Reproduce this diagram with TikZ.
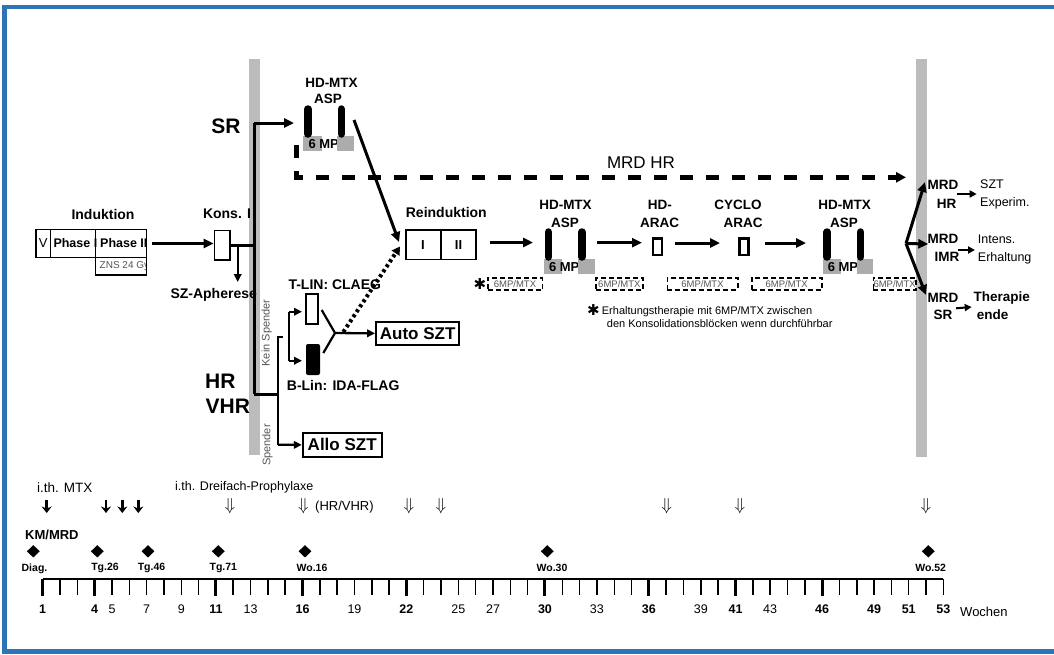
\documentclass[tikz,border=0pt]{standalone}
\usepackage{fontspec}
\setmainfont{Liberation Sans}
\newfontfamily\djv{DejaVu Sans}
\usetikzlibrary{arrows.meta,calc,shapes.geometric}
\newcommand{\myfs}[1]{\fontsize{#1}{#1}\selectfont}
\definecolor{frameblue}{RGB}{46,117,182}
\definecolor{bargray}{RGB}{188,188,188}
\definecolor{mpgray}{RGB}{172,172,172}
\definecolor{txtgray}{RGB}{85,85,85}
\tikzset{
  lab/.style={inner sep=0pt, font=\bfseries\myfs{14}},
  big/.style={inner sep=0pt, font=\bfseries\myfs{21}},
  flow/.style={line width=3pt, -{Triangle[length=10pt,width=9pt]}},
  flowsm/.style={line width=2.3pt, -{Triangle[length=8pt,width=7.5pt]}},
  plain/.style={line width=3pt},
  thinline/.style={line width=2.2pt},
  thinbox/.style={draw, line width=1.4pt, inner sep=0pt},
  bigbox/.style={draw, line width=1.8pt, inner sep=0pt, font=\bfseries\myfs{17}},
  chembox/.style={draw, line width=2.4pt, fill=white, inner sep=0pt, minimum width=9pt, minimum height=16.7pt},
  dbox/.style={draw, dash pattern=on 5pt off 3pt, line width=1.6pt, inner sep=0pt, minimum height=12.3pt, font=\myfs{9.5}, text=txtgray},
  mtxarrow/.style={line width=2.6pt, -{Stealth[length=6.5pt,width=10pt]}},
  dbl/.style={inner sep=0pt, font=\myfs{16}},
  kmd/.style={diamond, fill=black, inner sep=0pt, minimum width=13pt, minimum height=12.5pt},
  kml/.style={inner sep=0pt, font=\bfseries\myfs{10.5}},
  wk/.style={inner sep=0pt, font=\myfs{12.5}},
  wkb/.style={inner sep=0pt, font=\bfseries\myfs{12.5}},
  mrd/.style={inner sep=0pt, font=\bfseries\myfs{13.5}},
  outc/.style={inner sep=0pt, anchor=west, font=\myfs{12.5}},
  outcb/.style={inner sep=0pt, anchor=west, font=\bfseries\myfs{13.5}},
  small/.style={line width=2pt, -{Triangle[length=7pt,width=7pt]}},
  starmk/.style={inner sep=0pt, font=\djv\myfs{15}}
}
\newcommand{\hdblock}[3]{%
  \begin{scope}[shift={(#1,#2)}]
    \fill[mpgray] (303.3,136) rectangle (321.7,150.7);
    \node[anchor=west, inner sep=0pt, font=\bfseries\myfs{13}] (#3mp) at (308.3,144) {6 MP};
    \fill[mpgray] (337.3,136) rectangle (354,150.7);
    \draw[line width=7.5pt, line cap=round] (307.8,109) -- (307.8,134);
    \draw[line width=7.5pt, line cap=round] (341.3,109) -- (341.3,134);
  \end{scope}}
\begin{document}
\begin{tikzpicture}[x=1pt,y=-1pt]
\useasboundingbox (0,0) rectangle (1054,654);
% frame
\draw[frameblue, line width=4.5pt] (4.5,654) -- (4.5,7) -- (1054,7);
\draw[frameblue, line width=4.5pt] (4.5,651.5) -- (1054,651.5);

% gray bars
\fill[bargray] (249.3,59) rectangle (260,455);
\fill[bargray] (916,59.3) rectangle (927.3,456.7);

% ---------- Induktion ----------
\node[lab] (ind) at (103,214) {Induktion};
\node[inner sep=0pt, font=\myfs{13}] (vt) at (43.3,243.5) {V};
\node[inner sep=0pt, anchor=west, font=\bfseries\myfs{12.5}] (p1t) at (53.3,243.5) {Phase I};
\node[inner sep=0pt, anchor=west, font=\bfseries\myfs{12.5}] (p2t) at (100,243.5) {Phase II};
\begin{scope}
  \clip (95.7,257.7) rectangle (146,275);
  \node[inner sep=0pt, anchor=west, font=\myfs{10}, text=txtgray] (znst) at (99.5,266.4) {ZNS 24 Gy};
\end{scope}
\node[thinbox, minimum width=14.7pt, minimum height=28.4pt] (v) at (43.35,243.5) {};
\node[thinbox, minimum width=45pt, minimum height=28.4pt] (p1) at (73.2,243.5) {};
\node[thinbox, minimum width=51pt, minimum height=28.4pt] (p2) at (121.2,243.5) {};
\node[thinbox, minimum width=51pt, minimum height=17.3pt] (zns) at (121.2,266.35) {};

% ---------- Kons I ----------
\node[lab] (konsl) at (227,214) {Kons. I};
\node[thinbox, minimum width=15.7pt, minimum height=29.3pt] (kons) at (222.15,245.35) {};
\draw[flow] ([xshift=5pt]p2.east) -- (kons.west |- p2.east);
\coordinate (vtop) at (254,123);
\coordinate (vbot) at (254,394);
\coordinate (kj) at (254,245.35);
\coordinate (apb) at (237.7,245.35);
\coordinate (ape) at (237.7,282);
\draw[plain] (vtop) -- (vbot);
\draw[plain] (kons.east) -- (kj);
\draw[flowsm] (apb) -- (ape);
\node[lab] (apher) at (213.7,295) {SZ-Apherese};

% SR / HR labels
\node[big] (sr) at (226,126) {SR};
\node[big, anchor=west] (hr) at (205,381.7) {HR};
\node[big, anchor=west] (vhr) at (205.5,406.7) {VHR};

% ---------- HD-MTX block 1 ----------
\node[lab, font=\bfseries\myfs{13.5}] (hd1) at (331.5,82.7) {HD-MTX};
\node[lab, font=\bfseries\myfs{13.5}] (asp1) at (328,99) {ASP};
\hdblock{0}{0}{bA}
\coordinate (srend) at (294,123);
\draw[flow] (vtop) -- (srend);

% dashed MRD HR
\coordinate (mrdA) at (296.7,145);
\coordinate (mrdB) at (296.7,177.3);
\coordinate (mrdC) at (906,177.3);
\draw[line width=4.5pt, dash pattern=on 13pt off 13pt, -{Triangle[length=10pt,width=10pt]}] (mrdA) -- (mrdB) -- (mrdC);
\node[inner sep=0pt, font=\myfs{17}] (mrdhr) at (641,163) {MRD HR};

% ---------- HR branch ----------
\coordinate (hj) at (278,394);
\coordinate (ks) at (278,336.7);
\coordinate (ksstub) at (283,336.7);
\coordinate (spd) at (278,444.8);
\draw[plain] (vbot) -- (hj);
\draw[thinline] (ksstub) -- (ks) -- (spd);
\node[bigbox, minimum width=79pt, minimum height=23.7pt] (allo) at (342.2,444.85) {Allo SZT};
\draw[flowsm] (spd) -- (allo.west);
\node[inner sep=0pt, rotate=90, font=\myfs{11}, text=txtgray] (kein) at (266.7,333) {Kein Spender};
\node[inner sep=0pt, rotate=90, font=\myfs{11}, text=txtgray] (spender) at (267.5,445) {Spender};

% T / B lineage
\node[lab, anchor=west] (tlin) at (288.3,285) {T-LIN: CLAEG};
\node[lab, anchor=west] (blin) at (286.7,385) {B-Lin: IDA-FLAG};
\node[draw, line width=2pt, fill=white, inner sep=0pt, minimum width=12.3pt, minimum height=30pt] (tbox) at (312.15,309) {};
\node[fill=black, rounded corners=2pt, inner sep=0pt, minimum width=14pt, minimum height=31pt] (bbox) at (313,359.5) {};
\coordinate (bt) at (289.3,311.7);
\coordinate (bb) at (289.3,360.7);
\coordinate (tT) at (302,311.7);
\coordinate (tB) at (302,360.7);
\draw[thinline] (bt) -- (bb);
\draw[flowsm] (bt) -- (tT);
\draw[flowsm] (bb) -- (tB);
\coordinate (yt) at (321.7,310);
\coordinate (yb) at (323.3,353);
\coordinate (yj) at (335,333);
\draw[thinline] (yt) -- (yj) -- (yb);
\node[bigbox, minimum width=83.3pt, minimum height=23.3pt] (auto) at (417.65,333.35) {Auto SZT};
\draw[flowsm] (yj) -- (auto.west);

% ---------- Reinduktion ----------
\node[lab] (reinl) at (446.3,212.3) {Reinduktion};
\node[thinbox, minimum width=70pt, minimum height=29.3pt] (rein) at (441,244.65) {};
\draw[line width=1.4pt] (rein.north) -- (rein.south);
\node[inner sep=0pt, font=\bfseries\myfs{13}] (r1) at (423,244.65) {I};
\node[inner sep=0pt, font=\bfseries\myfs{13}] (r2) at (458.5,244.65) {II};
\coordinate (b1out) at (354,120);
\coordinate (rin1) at (399,242);
\draw[flow] (b1out) -- (rin1);
\coordinate (dotS) at (343.3,332);
\coordinate (rin2) at (400,246.5);
\draw[line width=4pt, dash pattern=on 3pt off 3pt, -{Triangle[length=8pt,width=9pt]}] (dotS) -- (rin2);

% ---------- consolidation chain ----------
\node[lab, font=\bfseries\myfs{13.5}] (hd2) at (565.5,205) {HD-MTX};
\node[lab, font=\bfseries\myfs{13.5}] (asp2) at (565,222.7) {ASP};
\hdblock{240.5}{123}{bB}
\coordinate (c1a) at (490,242.5);
\coordinate (c1b) at (533,242.5);
\draw[flow] (c1a) -- (c1b);

\node[lab, font=\bfseries\myfs{13.5}] (hdarac1) at (659.8,205) {HD-};
\node[lab, font=\bfseries\myfs{13.5}] (hdarac2) at (659.5,223.3) {ARAC};
\node[chembox] (arac) at (657.2,246.65) {};
\coordinate (c2a) at (597,242.7);
\coordinate (c2b) at (642,242.7);
\draw[flow] (c2a) -- (c2b);

\node[lab, font=\bfseries\myfs{13.5}] (cyc1) at (738,205) {CYCLO};
\node[lab, font=\bfseries\myfs{13.5}] (cyc2) at (743,223.3) {ARAC};
\node[chembox] (cyc) at (743.8,246.65) {};
\coordinate (c3a) at (675,243);
\coordinate (c3b) at (720,243);
\draw[flow] (c3a) -- (c3b);

\node[lab, font=\bfseries\myfs{13.5}] (hd3) at (844.5,205) {HD-MTX};
\node[lab, font=\bfseries\myfs{13.5}] (asp3) at (844,222.7) {ASP};
\hdblock{519.3}{123}{bC}
\coordinate (c4a) at (765,243);
\coordinate (c4b) at (806,243);
\draw[flow] (c4a) -- (c4b);

% 6MP/MTX dashed boxes
\node[starmk] (st1) at (480,284.3) {✱};
\node[dbox, minimum width=54.6pt] (m1) at (515,283.85) {6MP/MTX};
\node[dbox, minimum width=46.7pt] (m2) at (619.35,283.85) {6MP/MTX};
\node[dbox, minimum width=70.4pt] (m3) at (702.5,283.85) {6MP/MTX};
\node[dbox, minimum width=70pt] (m4) at (786.7,283.85) {6MP/MTX};
\node[dbox, minimum width=42.7pt] (m5) at (894.65,283.85) {6MP/MTX};
\node[starmk] (st2) at (593.3,310) {✱};
\node[inner sep=0pt, anchor=west, align=left, font=\fontsize{11}{13.3}\selectfont] (fn) at (601.7,317.4) {Erhaltungstherapie mit 6MP/MTX zwischen\\\hspace*{5pt}den Konsolidationsblöcken wenn durchführbar};

% ---------- right fan ----------
\coordinate (fan) at (906,243.5);
\coordinate (fHR) at (925,182);
\coordinate (fIMR) at (928.3,244);
\coordinate (fSR) at (926,295);
\draw[flow] (fan) -- (fHR);
\draw[flow] (fan) -- (fIMR);
\draw[flow] (fan) -- (fSR);
\node[mrd] (mrd1) at (943,185) {MRD};
\node[mrd] (mrd1b) at (946.5,204) {HR};
\node[mrd] (mrd2) at (943,239) {MRD};
\node[mrd] (mrd2b) at (947,257.3) {IMR};
\node[mrd] (mrd3) at (943,297.7) {MRD};
\node[mrd] (mrd3b) at (943,315) {SR};
\begin{scope}
  \clip (900,150) rectangle (1037,330);
  \coordinate (o1a) at (956.7,194);
  \coordinate (o1b) at (976.7,194);
  \coordinate (o2a) at (958.3,250);
  \coordinate (o2b) at (975,250);
  \coordinate (o3a) at (956,308.3);
  \coordinate (o3b) at (971.7,307);
  \draw[small] (o1a) -- (o1b);
  \draw[small] (o2a) -- (o2b);
  \draw[small] (o3a) -- (o3b);
  \node[outc] (szt) at (980,184) {SZT};
  \node[outc] (exp) at (980,203.3) {Experim.};
  \node[outc] (int) at (977.7,239.3) {Intens.};
  \node[outc] (erh) at (977.7,258.3) {Erhaltung};
  \node[outcb] (ther) at (973.3,298.3) {Therapie};
  \node[outcb] (ende) at (976.7,315) {ende};
\end{scope}

% ---------- bottom timeline ----------
\node[inner sep=0pt, anchor=west, font=\myfs{13.5}] (ithm) at (37,487.3) {i.th. MTX};
\node[inner sep=0pt, anchor=west, font=\myfs{12.5}] (ithd) at (175,487.3) {i.th. Dreifach-Prophylaxe};
\foreach \x [count=\i] in {46.7,106,122.3,138.3}{
  \coordinate (mA\i) at (\x,499.5);
  \coordinate (mB\i) at (\x,513);
  \draw[mtxarrow] (mA\i) -- (mB\i);
}
\foreach \x [count=\i] in {230,303.3,409,441,666.7,740,926}{
  \node[dbl] (da\i) at (\x,506.5) {$\Downarrow$};
}
\node[inner sep=0pt, anchor=west, font=\myfs{13}] (hrvhr) at (315,507.3) {(HR/VHR)};

\node[inner sep=0pt, anchor=west, font=\bfseries\myfs{13}] (kmmrd) at (25,535) {KM/MRD};
\foreach \x/\t/\lx [count=\i] in {33.3/Diag./34.5, 97.3/Tg.26/105, 148/Tg.46/151.5, 218.3/Tg.71/223.3, 305/Wo.16/312, 547.3/Wo.30/552, 928.3/Wo.52/930.7}{
  \node[kmd] (kd\i) at (\x,551.3) {};
  \node[kml] (kl\i) at (\lx,568.3) {\t};
}

\coordinate (tlL) at (42.7,579);
\coordinate (tlR) at (943.3,579);
\draw[line width=1.5pt] (tlL) -- (tlR);
\foreach \w in {1,...,53}{
  \coordinate (tk\w) at ({42.7+(\w-1)*17.32},579);
  \draw[line width=1.5pt] (tk\w) -- ++(0,16);
}
\foreach \w in {1,4,11,16,22,30,36,41,46}{
  \draw[line width=3pt] (tk\w) -- ++(0,17);
}
\foreach \w in {5,7,9,13,19,25,27,33,39,43}{
  \node[wk] (nl\w) at ({42.7+(\w-1)*17.32},609) {\w};
}
\foreach \w in {1,4,11,16,22,30,36,41,46,49,51,53}{
  \node[wkb] (nl\w) at ({42.7+(\w-1)*17.32},609) {\w};
}
\node[inner sep=0pt, anchor=west, font=\myfs{13}] (woch) at (960,612) {Wochen};
\end{tikzpicture}
\end{document}
